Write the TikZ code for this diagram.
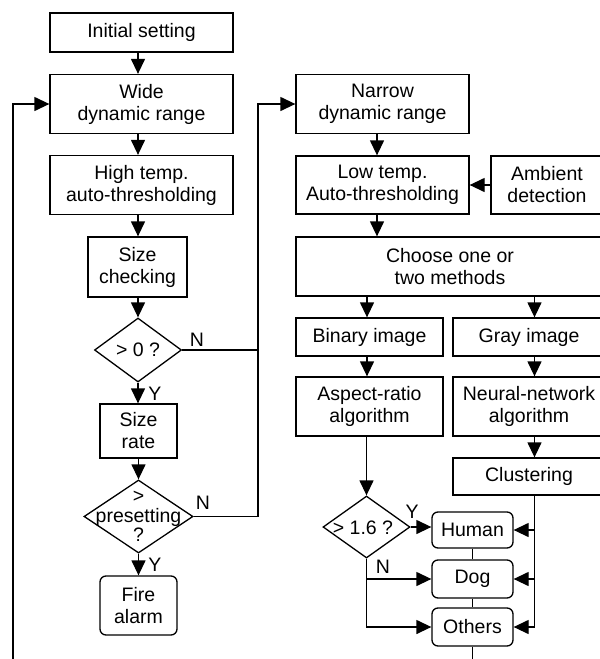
\documentclass[tikz,border=0pt]{standalone}
\usepackage{fontspec}
\setmainfont{Liberation Sans}
\usetikzlibrary{arrows.meta,shapes.geometric}
\tikzset{
  box/.style={draw, line width=1.3pt, inner sep=0pt, align=center, font=\fontsize{19.5}{22}\selectfont},
  rbox/.style={box, rounded corners=6pt},
  dia/.style={draw, diamond, line width=1.3pt, inner sep=0pt},
  txt/.style={inner sep=0pt, align=center, font=\fontsize{19.5}{19.5}\selectfont},
  lbl/.style={inner sep=0pt, font=\fontsize{19.5}{20}\selectfont},
  arr/.style={line width=1.3pt, -{Triangle[length=15pt,width=14pt]}},
  ln/.style={line width=1.3pt},
}
\begin{document}
\begin{tikzpicture}[x=1pt,y=-1pt]
\useasboundingbox (0,0) rectangle (600,659);
\clip (0,0) rectangle (600,659);
% left column
\node[box, minimum width=183pt, minimum height=39pt] (init) at (141.5,32.5) {Initial setting};
\node[box, minimum width=183pt, minimum height=59pt] (wide) at (141.5,104) {Wide\\dynamic range};
\node[box, minimum width=183pt, minimum height=59pt] (high) at (141.5,185) {High temp.\\auto-thresholding};
\node[box, minimum width=99pt, minimum height=60pt] (sizechk) at (137.5,267) {Size\\checking};
\node[dia, minimum width=87pt, minimum height=64pt] (d0) at (138,350) {};
\node[txt] at (d0) {> 0 ?};
\node[box, minimum width=77pt, minimum height=54pt] (sizerate) at (138.5,431) {Size\\rate};
\node[dia, minimum width=109pt, minimum height=73pt] (dpre) at (138.5,516.5) {};
\node[txt] at (dpre) {>\\presetting\\?};
\node[rbox, minimum width=77pt, minimum height=59pt] (fire) at (138.5,605.5) {Fire\\alarm};
% right column
\node[box, minimum width=173pt, minimum height=59pt] (narrow) at (382.5,104) {Narrow\\dynamic range};
\node[box, minimum width=173pt, minimum height=58pt] (low) at (382.5,185) {Low temp.\\Auto-thresholding};
\node[box, minimum width=112pt, minimum height=58pt] (amb) at (547,185) {Ambient\\detection};
\node[box, minimum width=308pt, minimum height=59pt] (choose) at (450,266.5) {Choose one or\\two methods};
\node[box, minimum width=147pt, minimum height=38pt] (binary) at (369.5,337) {Binary image};
\node[box, minimum width=152pt, minimum height=38pt] (gray) at (529,337) {Gray image};
\node[box, minimum width=147pt, minimum height=59pt] (aspect) at (369.5,406.5) {Aspect-ratio\\algorithm};
\node[box, minimum width=152pt, minimum height=59pt] (neural) at (529,406.5) {Neural-network\\algorithm};
\node[box, minimum width=152pt, minimum height=37pt] (clust) at (529,476.5) {Clustering};
\node[dia, minimum width=87pt, minimum height=62pt] (d16) at (366.5,527) {};
\node[txt] at (363,528) {> 1.6 ?};
\node[rbox, minimum width=81pt, minimum height=36pt] (human) at (472.5,530) {Human};
\node[rbox, minimum width=81pt, minimum height=38pt] (dog) at (472.5,579) {Dog};
\node[rbox, minimum width=81pt, minimum height=38pt] (others) at (472.5,627) {Others};
% helper coordinates
\coordinate (cl) at (138,0);
\coordinate (cr) at (377,0);
\coordinate (cb) at (367,0);
\coordinate (cg) at (534.5,0);
\coordinate (rx) at (258,0);
\coordinate (lx) at (13,659);
\coordinate (bot) at (0,659);
% left column connectors
\draw[arr] (init.south -| cl) -- (wide.north -| cl);
\draw[arr] (wide.south -| cl) -- (high.north -| cl);
\draw[arr] (high.south -| cl) -- (sizechk.north -| cl);
\draw[arr] (sizechk.south -| cl) -- (d0.north);
\draw[arr] (d0.south) -- (sizerate.north -| d0.south);
\draw[arr] (sizerate.south -| dpre.north) -- (dpre.north);
\draw[arr] (dpre.south) -- (fire.north -| dpre.south);
\node[lbl] at (197,340) {N};
\node[lbl] at (155,394) {Y};
\node[lbl] at (203,503) {N};
\node[lbl] at (155,565) {Y};
% N branches
\draw[ln] (d0.east) -- (d0.east -| rx);
\draw[arr] (dpre.east) -- (dpre.east -| rx) -- (rx |- narrow.west) -- (narrow.west);
% loop back
\draw[arr] (lx) -- (lx |- wide.west) -- (wide.west);
% right column connectors
\draw[arr] (narrow.south -| cr) -- (low.north -| cr);
\draw[arr] (amb.west) -- (low.east);
\draw[arr] (low.south -| cr) -- (choose.north -| cr);
\draw[arr] (choose.south -| cb) -- (binary.north -| cb);
\draw[arr] (choose.south -| cg) -- (gray.north -| cg);
\draw[arr] (binary.south -| cb) -- (aspect.north -| cb);
\draw[arr] (gray.south -| cg) -- (neural.north -| cg);
\draw[arr] (neural.south -| cg) -- (clust.north -| cg);
\draw[arr] (aspect.south -| d16.north) -- (d16.north);
\draw[arr] (d16.east) -- (human.west |- d16.east);
\draw[arr] (d16.south) |- (others.west);
\draw[arr] (d16.south |- dog.west) -- (dog.west);
\node[lbl] at (412,512) {Y};
\node[lbl] at (383,567) {N};
\draw[arr] (clust.south -| cg) |- (others.east);
\draw[arr] (cg |- human.east) -- (human.east);
\draw[arr] (cg |- dog.east) -- (dog.east);
\draw[ln] (human.south) -- (dog.north);
\draw[ln] (dog.south) -- (others.north);
\draw[ln] (others.south) -- (others.south |- bot);
\end{tikzpicture}
\end{document}
